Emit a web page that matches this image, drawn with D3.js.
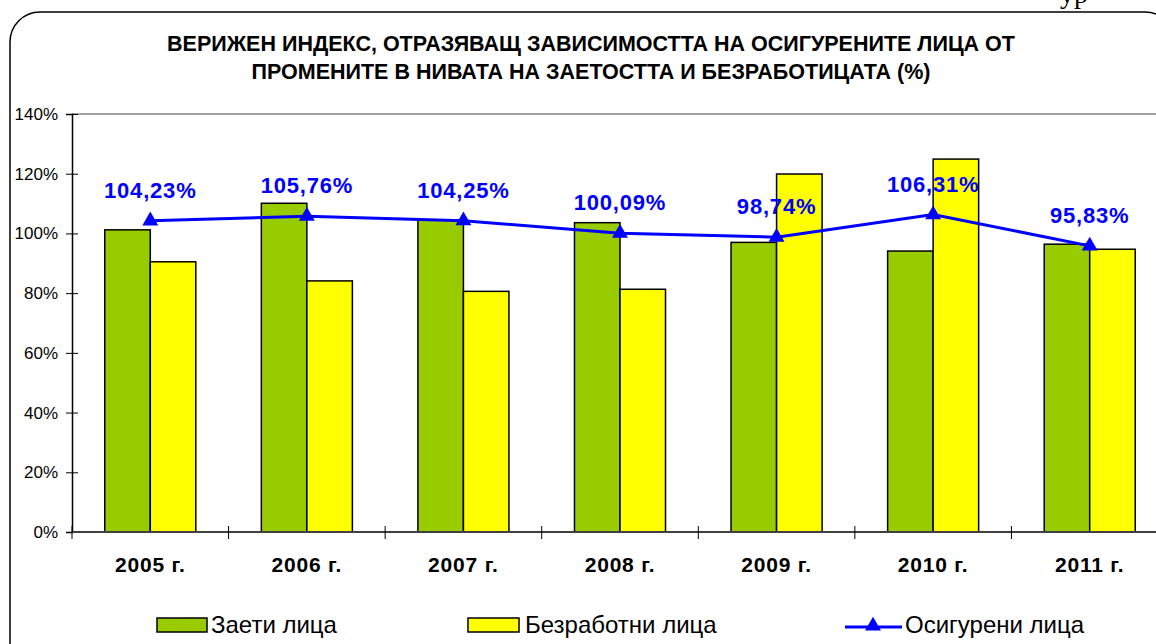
<!DOCTYPE html>
<html>
<head>
<meta charset="utf-8">
<script src="https://cdn.jsdelivr.net/npm/d3@7"></script>
<style>
  body { margin: 0; background: #fff; }
  text { font-family: "Liberation Sans", Arial, sans-serif; }
</style>
</head>
<body>
<div id="chart"></div>
<script>
const width = 1156;
const height = 644;

// data
const years      = ["2005 г.", "2006 г.", "2007 г.", "2008 г.", "2009 г.", "2010 г.", "2011 г."];
const employed   = [101.2, 110.1, 104.5, 103.6, 97.0, 94.1, 96.4];
const unemployed = [90.5, 84.1, 80.6, 81.3, 119.9, 124.9, 94.7];
const insured    = [104.23, 105.76, 104.25, 100.09, 98.74, 106.31, 95.83];
const yTicks     = [0, 20, 40, 60, 80, 100, 120, 140];

const seriesNames = ["Заети лица", "Безработни лица", "Осигурени лица"];
const titleLines = [
   "ВЕРИЖЕН ИНДЕКС, ОТРАЗЯВАЩ ЗАВИСИМОСТТА НА ОСИГУРЕНИТЕ ЛИЦА ОТ",
   "ПРОМЕНИТЕ В НИВАТА НА ЗАЕТОСТТА И БЕЗРАБОТИЦАТА (%)"
];

const green  = "#99cc00";
const yellow = "#ffff00";
const blue   = "#0000ff";

const bg = d3.formatLocale({decimal: ",", thousands: " ", grouping: [3], currency: ["", ""]});
const fmtPct = v => bg.format(".2f")(v) + "%";

const svg = d3.select("#chart").append("svg")
   .attr("width", width)
   .attr("height", height);

// bit of page text cut off at the top
svg.append("text")
   .attr("x", 1060).attr("y", 3)
   .style("font-family", "'Liberation Serif', serif")
   .style("font-size", "28px")
   .text("ур");

// outer frame
svg.append("rect")
   .attr("x", 10).attr("y", 12)
   .attr("width", 1165).attr("height", 660)
   .attr("rx", 30).attr("ry", 30)
   .attr("fill", "none")
   .attr("stroke", "#000")
   .attr("stroke-width", 1.5);

// title
svg.selectAll("text.title")
   .data(titleLines)
   .enter()
   .append("text")
   .attr("class", "title")
   .attr("x", 591)
   .attr("y", (d, i) => 51 + i * 28)
   .attr("text-anchor", "middle")
   .style("font-size", "21.5px")
   .style("font-weight", "bold")
   .text(d => d);

const margin = {top: 114, left: 72, bottom: 532, right: 1168};

const x = d3.scaleBand()
   .domain(years)
   .range([margin.left, margin.right]);

const y = d3.scaleLinear()
   .domain([0, 140])
   .range([margin.bottom, margin.top]);

const barW = x.bandwidth() / 3.44;
const barOff = (x.bandwidth() - 2 * barW) / 2;

// top border of plot area
svg.append("line")
   .attr("x1", margin.left).attr("x2", margin.right)
   .attr("y1", y(140)).attr("y2", y(140))
   .attr("stroke", "#808080")
   .attr("stroke-width", 1.5);

// y axis
const yAxis = svg.append("g")
   .attr("transform", `translate(${margin.left},0)`)
   .call(d3.axisLeft(y).tickValues(yTicks).tickSize(6).tickPadding(8).tickFormat(d => d + "%"));
yAxis.select(".domain").attr("stroke", "#000").attr("stroke-width", 1.5);
yAxis.selectAll(".tick line").attr("x1", 6).attr("x2", -6).attr("stroke", "#000");
yAxis.selectAll(".tick text")
   .style("font-size", "17px")
   .style("font-family", "'Liberation Sans', Arial, sans-serif")
   .attr("fill", "#000");

// bars
const rows = years.map((yr, i) => ({year: yr, emp: employed[i], unemp: unemployed[i], ins: insured[i]}));

svg.selectAll("rect.emp")
   .data(rows)
   .enter()
   .append("rect")
   .attr("class", "emp")
   .attr("x", d => x(d.year) + barOff)
   .attr("y", d => y(d.emp))
   .attr("width", barW)
   .attr("height", d => y(0) - y(d.emp))
   .attr("fill", green)
   .attr("stroke", "#000")
   .attr("stroke-width", 1.5);

svg.selectAll("rect.unemp")
   .data(rows)
   .enter()
   .append("rect")
   .attr("class", "unemp")
   .attr("x", d => x(d.year) + barOff + barW)
   .attr("y", d => y(d.unemp))
   .attr("width", barW)
   .attr("height", d => y(0) - y(d.unemp))
   .attr("fill", yellow)
   .attr("stroke", "#000")
   .attr("stroke-width", 1.5);

// x axis
svg.append("line")
   .attr("x1", margin.left).attr("x2", margin.right)
   .attr("y1", y(0)).attr("y2", y(0))
   .attr("stroke", "#404040")
   .attr("stroke-width", 2);

const bounds = years.map(d => x(d)).concat([x.range()[1]]);
svg.selectAll("line.xtick")
   .data(bounds)
   .enter()
   .append("line")
   .attr("class", "xtick")
   .attr("x1", d => d).attr("x2", d => d)
   .attr("y1", y(0) - 6).attr("y2", y(0) + 7)
   .attr("stroke", "#000")
   .attr("stroke-width", 1);

svg.selectAll("text.xlabel")
   .data(years)
   .enter()
   .append("text")
   .attr("class", "xlabel")
   .attr("x", d => x(d) + x.bandwidth() / 2)
   .attr("y", 572)
   .attr("text-anchor", "middle")
   .style("font-size", "21px")
   .style("font-weight", "bold")
   .style("letter-spacing", "0.8px")
   .text(d => d);

// line series
const cx = d => x(d.year) + x.bandwidth() / 2;
const line = d3.line()
   .x(cx)
   .y(d => y(d.ins));

svg.append("path")
   .datum(rows)
   .attr("d", line)
   .attr("fill", "none")
   .attr("stroke", blue)
   .attr("stroke-width", 3);

const tri = d3.symbol().type(d3.symbolTriangle).size(110);
svg.selectAll("path.marker")
   .data(rows)
   .enter()
   .append("path")
   .attr("class", "marker")
   .attr("d", tri)
   .attr("transform", d => `translate(${cx(d)},${y(d.ins)})`)
   .attr("fill", blue);

svg.selectAll("text.dlabel")
   .data(rows)
   .enter()
   .append("text")
   .attr("class", "dlabel")
   .attr("x", cx)
   .attr("y", d => y(d.ins) - 23)
   .attr("text-anchor", "middle")
   .style("font-size", "22px")
   .style("font-weight", "bold")
   .style("letter-spacing", "0.8px")
   .attr("fill", blue)
   .text(d => fmtPct(d.ins));

// legend
const legend = svg.append("g").attr("class", "legend");
const legY = 625;

legend.append("rect")
   .attr("x", 157).attr("y", legY - 7)
   .attr("width", 50).attr("height", 14)
   .attr("fill", green).attr("stroke", "#000").attr("stroke-width", 1.5);
legend.append("text")
   .attr("x", 211).attr("y", legY + 8)
   .style("font-size", "24px")
   .text(seriesNames[0]);

legend.append("rect")
   .attr("x", 468).attr("y", legY - 7)
   .attr("width", 51).attr("height", 14)
   .attr("fill", yellow).attr("stroke", "#000").attr("stroke-width", 1.5);
legend.append("text")
   .attr("x", 525).attr("y", legY + 8)
   .style("font-size", "24px")
   .text(seriesNames[1]);

legend.append("line")
   .attr("x1", 845).attr("x2", 902)
   .attr("y1", legY + 2).attr("y2", legY + 2)
   .attr("stroke", blue).attr("stroke-width", 3);
legend.append("path")
   .attr("d", tri)
   .attr("transform", `translate(873,${legY + 1})`)
   .attr("fill", blue);
legend.append("text")
   .attr("x", 905).attr("y", legY + 8)
   .style("font-size", "24px")
   .text(seriesNames[2]);
</script>
</body>
</html>
